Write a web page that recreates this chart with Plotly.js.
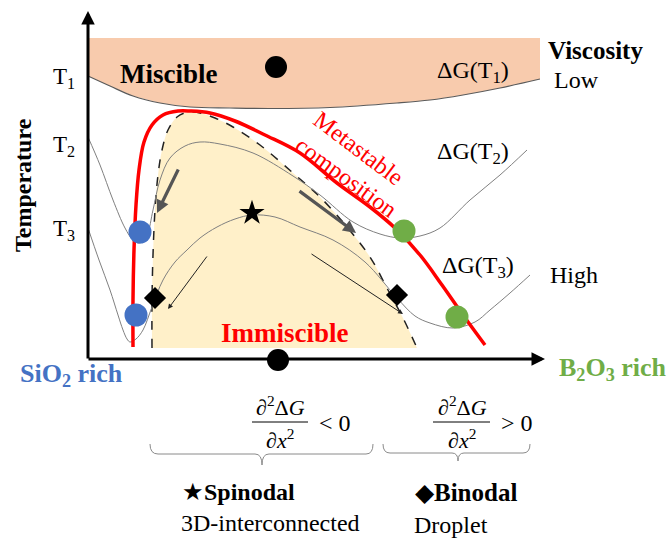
<!DOCTYPE html>
<html><head><meta charset="utf-8">
<script src="https://cdn.plot.ly/plotly-3.0.1.min.js"></script>
<style>body{margin:0;padding:0;background:#fff}#plot{width:671px;height:539px}</style>
</head><body><div id="plot"></div>
<script>
// ---- schematic data (in picture units) ----
const miscibleTopX = [88, 540];
const miscibleTopY = [38, 38];
const dGT1X = [88,110,133,160,190,230,270,330,397,430,463,500,540];
const dGT1Y = [76,86,96,103,107,108,108.5,107.5,103,100,95,88,79];

const spinodalX = [152,152,153,155,158,162,168,177,188,200,215,233,260,293,320,347,370,388,403,417];
const spinodalY = [348,300,255,210,175,150,130,117,112,113,118,127,145,173,197,227,257,290,318,348];

const metastableX = [133,133,134,136,139,144,152,163,178,190,210,235,265,300,337,370,395,420,442,463,485];
const metastableY = [347,300,250,205,170,142,125,115,111,111,113,121,135,153,183,207,228,255,285,315,345];

const dGT2X = [88,100,113,125,133,140,147,153,160,170,185,200,220,253,293,320,353,380,400,420,440,470,500,527];
const dGT2Y = [137,165,200,228,240,243,235,210,180,158,146,142,144,153,176,195,222,234,238,236,228,200,175,150];

const dGT3X = [88,99,110,118,123,127,130,136,143,152,163,175,187,200,217,235,252,275,300,333,365,397,415,430,453,475,490,510,530];
const dGT3Y = [228,260,290,315,330,339,342,339,330,307,280,262,250,238,227,219,215,217,227,240,262,298,316,323,328,322,310,293,275];

const sio2PointsX = [140,136], sio2PointsY = [232,315];
const b2o3PointsX = [404,457], b2o3PointsY = [231,317];
const stateDotsX = [276,278], stateDotsY = [67,360];
const spinodalStarX = [252], spinodalStarY = [213];
const binodalDiamondX = [155,397], binodalDiamondY = [298,295];

const tempLabels = ['T<sub>1</sub>','T<sub>2</sub>','T<sub>3</sub>'];
const tempLabelY = [78,146,230];

const serif = 'Liberation Serif';

const traces = [
  {x: miscibleTopX.concat(dGT1X.slice().reverse()), y: miscibleTopY.concat(dGT1Y.slice().reverse()),
   mode:'lines', fill:'toself', fillcolor:'#F8CBAD', line:{width:0, color:'#F8CBAD'}, hoverinfo:'skip'},
  {x: dGT1X, y: dGT1Y, mode:'lines', line:{color:'#5a5a5a', width:1.2, shape:'spline'}, hoverinfo:'skip'},
  {x: spinodalX, y: spinodalY, mode:'lines', fill:'toself', fillcolor:'#FFF0C9', line:{width:0, shape:'spline'}, hoverinfo:'skip'},
  {x: spinodalX, y: spinodalY, mode:'lines', line:{color:'#222', width:1.5, dash:'dash', shape:'spline'}, hoverinfo:'skip'},
  {x: dGT2X, y: dGT2Y, mode:'lines', line:{color:'#808080', width:1, shape:'spline'}, hoverinfo:'skip'},
  {x: dGT3X, y: dGT3Y, mode:'lines', line:{color:'#808080', width:1, shape:'spline'}, hoverinfo:'skip'},
  {x: metastableX, y: metastableY, mode:'lines', line:{color:'#FF0000', width:3.5, shape:'spline'}, hoverinfo:'skip'},
  {x: sio2PointsX, y: sio2PointsY, mode:'markers', marker:{size:23, color:'#4472C4'}},
  {x: b2o3PointsX, y: b2o3PointsY, mode:'markers', marker:{size:23, color:'#70AD47'}},
  {x: stateDotsX, y: stateDotsY, mode:'markers', marker:{size:22, color:'#000'}},
  {x: spinodalStarX, y: spinodalStarY, mode:'markers', marker:{size:19, color:'#000', symbol:'star'}},
  {x: binodalDiamondX, y: binodalDiamondY, mode:'markers', marker:{size:17, color:'#000', symbol:'diamond'}}
];

function txt(x, y, text, size, color, opts) {
  return Object.assign({x:x, y:y, xref:'x', yref:'y', text:text, showarrow:false,
    font:{family:serif, size:size, color:color||'#000'}, xanchor:'center', yanchor:'middle'}, opts||{});
}
function arrow(x, y, ax, ay, w, c) {
  return {x:x, y:y, ax:ax, ay:ay, xref:'x', yref:'y', axref:'x', ayref:'y', text:'', showarrow:true,
    arrowhead:2, arrowsize:1, arrowwidth:w, arrowcolor:c, standoff:0, startstandoff:0};
}

const annotations = [
  Object.assign(arrow(88, 11, 88, 360, 3, '#000'), {arrowsize:0.9}),
  Object.assign(arrow(545, 359, 87, 359, 3, '#000'), {arrowsize:0.9}),
  Object.assign(arrow(157, 213, 179, 168, 3.2, '#555'), {arrowsize:0.8}),
  Object.assign(arrow(356, 233, 298, 190, 3.2, '#555'), {arrowsize:0.8}),
  arrow(168, 309, 208, 255, 1, '#222'),
  arrow(403, 314, 310, 253, 1, '#222'),
  txt(168, 74, '<b>Miscible</b>', 27),
  txt(473, 72, 'ΔG(T<sub>1</sub>)', 24),
  txt(595, 50, '<b>Viscosity</b>', 25),
  txt(576, 80, 'Low', 24),
  txt(473, 153, 'ΔG(T<sub>2</sub>)', 24),
  txt(478, 267, 'ΔG(T<sub>3</sub>)', 24),
  txt(574, 275, 'High', 24),
  txt(285, 333, '<b>Immiscible</b>', 27, '#FF0000'),
  txt(358, 148, 'Metastable', 24, '#FF0000', {textangle:37}),
  txt(346, 177, 'composition', 24, '#FF0000', {textangle:36}),
  txt(23, 185, '<b>Temperature</b>', 24, '#000', {textangle:-90}),
  txt(71, 375, '<b>SiO<sub>2</sub> rich</b>', 26, '#4472C4'),
  txt(613, 369, '<b>B<sub>2</sub>O<sub>3</sub> rich</b>', 26, '#70AD47'),
  txt(280, 406, '∂<sup>2</sup>Δ<i>G</i>', 22),
  txt(280, 439, '∂<i>x</i><sup>2</sup>', 22),
  txt(335, 423, '&lt; 0', 24),
  txt(462, 406, '∂<sup>2</sup>Δ<i>G</i>', 22),
  txt(462, 439, '∂<i>x</i><sup>2</sup>', 22),
  txt(517, 423, '&gt; 0', 24),
  txt(238, 492, '★<b>Spinodal</b>', 24),
  txt(270, 523, '3D-interconnected', 24),
  txt(466, 492, '◆<b>Binodal</b>', 25),
  txt(451, 525, 'Droplet', 24)
];
tempLabels.forEach((t, i) => annotations.push(txt(64, tempLabelY[i], t, 23)));

const shapes = [
  // light core of the double-line process arrows
  {type:'line', xref:'x', yref:'y', x0:178.5, y0:169, x1:162, y1:203, line:{color:'#e6e6e6', width:1}},
  {type:'line', xref:'x', yref:'y', x0:299, y0:191, x1:345, y1:225, line:{color:'#e6e6e6', width:1}},
  // fraction bars
  {type:'line', xref:'x', yref:'y', x0:252, x1:308, y0:422, y1:422, line:{color:'#000', width:1}},
  {type:'line', xref:'x', yref:'y', x0:433, x1:490, y0:422, y1:422, line:{color:'#000', width:1}},
  // braces
  {type:'path', xref:'x', yref:'y', path:'M150,444 Q150,454 158,454 L255,454 Q262,454 262,465 Q262,454 269,454 L366,454 Q373,454 373,444', line:{color:'#8a8a8a', width:1}},
  {type:'path', xref:'x', yref:'y', path:'M383,444 Q383,453 390,453 L452,453 Q458,453 458,461 Q458,453 464,453 L523,453 Q530,453 530,444', line:{color:'#8a8a8a', width:1}}
];

const layout = {
  width:671, height:539, margin:{l:0,r:0,t:0,b:0},
  paper_bgcolor:'#fff', plot_bgcolor:'#fff', showlegend:false,
  font:{family:serif},
  xaxis:{range:[0,671], visible:false, fixedrange:true},
  yaxis:{range:[539,0], visible:false, fixedrange:true},
  annotations:annotations, shapes:shapes
};
Plotly.newPlot('plot', traces, layout, {staticPlot:true, displayModeBar:false});
</script></body></html>
